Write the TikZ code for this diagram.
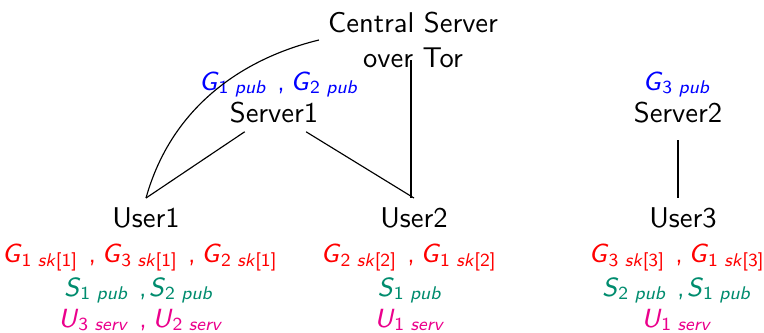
\documentclass[tikz,border=0pt]{standalone}
\usepackage{amsmath}
\renewcommand\familydefault{\sfdefault}
\definecolor{kred}{RGB}{255,0,0}
\definecolor{kblue}{RGB}{0,0,255}
\definecolor{kgreen}{RGB}{0,140,110}
\definecolor{kpink}{RGB}{235,0,140}
\newcommand\Kp[3]{\textit{#1}$_{\text{#2\ \textit{#3}}}$}
\newcommand\Ks[3]{\textit{#1}$_{\text{#2\ \textit{sk}[#3]}}$}
\newcommand\cm{\hspace{3.5pt},\hspace{2pt}}
\newcommand\cmS{\hspace{3.5pt},\hspace{0.8pt}}
\begin{document}
\begin{tikzpicture}[x=0.35pt,y=-0.35pt,
  every node/.style={font=\sffamily, align=center, inner sep=3pt},
  keys/.style={anchor=base, font=\fontsize{9.2}{12}\selectfont},
  lbl/.style={anchor=base}]
\useasboundingbox (0,0) rectangle (764,332);
% servers
\node (central) at (413,40) {Central Server\\over Tor};
\node[keys, text=kblue] (s1k) at (279,90) {\Kp{G}{1}{pub}\cm\Kp{G}{2}{pub}};
\node[lbl] (server1) at (274,122) {Server1};
\node[keys, text=kblue] (s2k) at (677,90) {\Kp{G}{3}{pub}};
\node[lbl] (server2) at (678,122) {Server2};
% users
\node[lbl] (user1) at (146,227) {User1};
\node[keys, text=kred] (u1r) at (140,262) {\Ks{G}{1}{1}\cm\Ks{G}{3}{1}\cm\Ks{G}{2}{1}};
\node[keys, text=kgreen] (u1g) at (139,296) {\Kp{S}{1}{pub}\cmS\Kp{S}{2}{pub}};
\node[keys, text=kpink] (u1p) at (141,327) {\Kp{U}{3}{serv}\cm\Kp{U}{2}{serv}};
\node[lbl] (user2) at (414,227) {User2};
\node[keys, text=kred] (u2r) at (409,262) {\Ks{G}{2}{2}\cm\Ks{G}{1}{2}};
\node[keys, text=kgreen] (u2g) at (410,296) {\Kp{S}{1}{pub}};
\node[keys, text=kpink] (u2p) at (410,327) {\Kp{U}{1}{serv}};
\node[lbl] (user3) at (683,227) {User3};
\node[keys, text=kred] (u3r) at (677,262) {\Ks{G}{3}{3}\cm\Ks{G}{1}{3}};
\node[keys, text=kgreen] (u3g) at (677,296) {\Kp{S}{2}{pub}\cmS\Kp{S}{1}{pub}};
\node[keys, text=kpink] (u3p) at (677,327) {\Kp{U}{1}{serv}};
% connectors
\coordinate (ctop) at (411,60);
\draw (server1) -- (user1.north);
\draw (server1) -- (user2.north);
\draw (ctop) -- (ctop |- user2.north);
\draw (user1.north) .. controls (172,105) and (245,58) .. (central.west);
\draw[shorten <=3pt] (server2.south) -- (server2.south |- user3.north);
\end{tikzpicture}
\end{document}
